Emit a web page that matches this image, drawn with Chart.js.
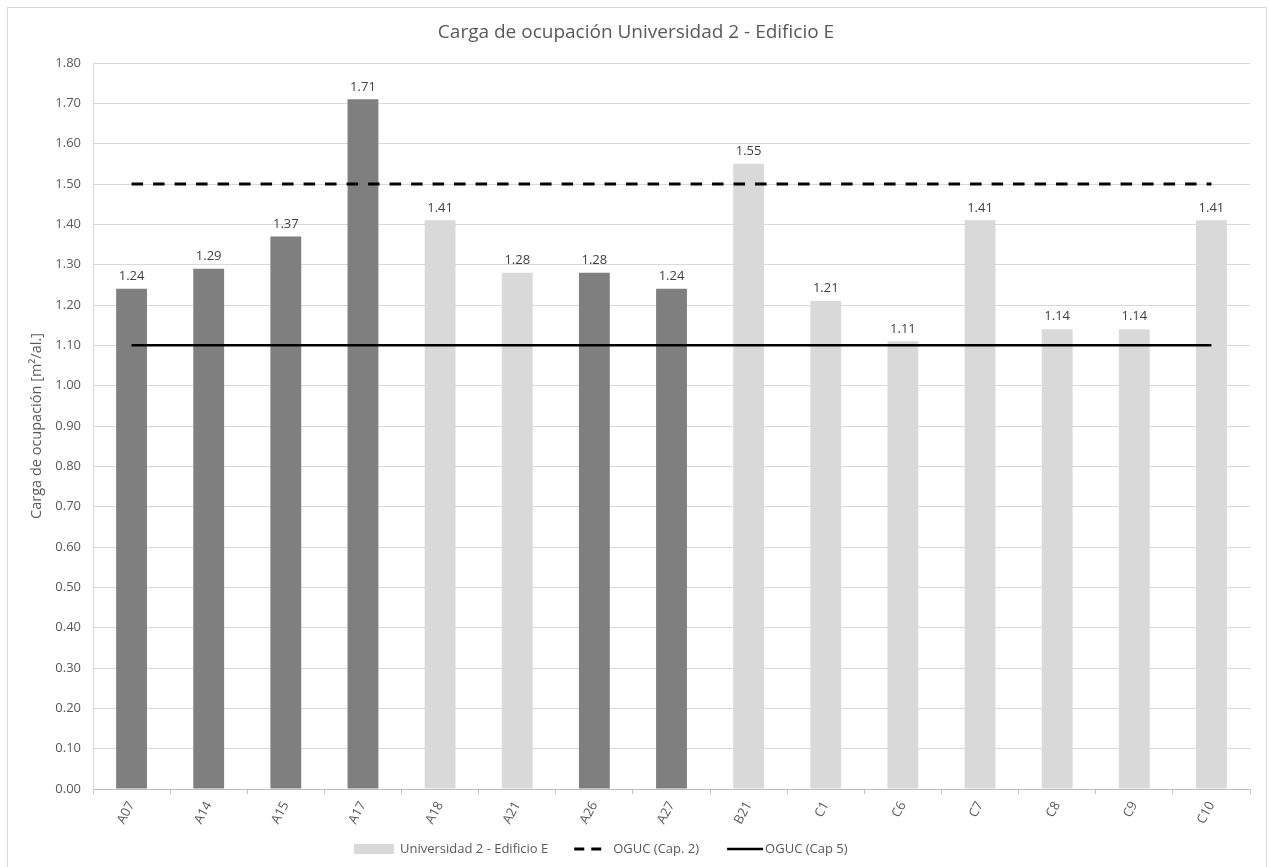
<!DOCTYPE html>
<html>
<head>
<meta charset="utf-8">
<script src="https://cdn.jsdelivr.net/npm/chart.js@4.4.1/dist/chart.umd.min.js"></script>
<style>
  html, body { margin: 0; padding: 0; background: #ffffff; }
  #wrap { position: relative; width: 1269px; height: 867px; }
</style>
</head>
<body>
<div id="wrap"><canvas id="chart" width="1269" height="867"></canvas></div>
<script>
// Rooms of Edificio E and their occupancy load (m² per student)
const categories = ['A07', 'A14', 'A15', 'A17', 'A18', 'A21', 'A26', 'A27', 'B21', 'C1', 'C6', 'C7', 'C8', 'C9', 'C10'];
const occupancyLoad = [1.24, 1.29, 1.37, 1.71, 1.41, 1.28, 1.28, 1.24, 1.55, 1.21, 1.11, 1.41, 1.14, 1.14, 1.41];
// Which rooms are highlighted in the darker shade
const highlighted = [true, true, true, true, false, false, true, true, false, false, false, false, false, false, false];
// Regulatory reference values (OGUC), one per room
const ogucCap2 = [1.50, 1.50, 1.50, 1.50, 1.50, 1.50, 1.50, 1.50, 1.50, 1.50, 1.50, 1.50, 1.50, 1.50, 1.50];
const ogucCap5 = [1.10, 1.10, 1.10, 1.10, 1.10, 1.10, 1.10, 1.10, 1.10, 1.10, 1.10, 1.10, 1.10, 1.10, 1.10];
// Value axis
const yMin = 0;
const yMax = 1.80;
const yStep = 0.10;

const seriesNames = ['Universidad 2 - Edificio E', 'OGUC (Cap. 2)', 'OGUC (Cap 5)'];
const chartTitle = 'Carga de ocupación Universidad 2 - Edificio E';
const yTitle = 'Carga de ocupación [m²/al.]';

const DARK = '#7f7f7f';
const LIGHT = '#d9d9d9';
const TEXT = '#595959';
const FONT = "'Open Sans', 'Liberation Sans', sans-serif";

// Outer frame around the chart
const framePlugin = {
  id: 'frame',
  afterDraw(chart) {
    const ctx = chart.ctx;
    ctx.save();
    ctx.strokeStyle = '#d9d9d9';
    ctx.lineWidth = 1;
    ctx.strokeRect(7.5, 7.5, 1259, 875);
    ctx.restore();
  }
};

// Value labels above each bar
const valueLabelPlugin = {
  id: 'valueLabels',
  afterDatasetsDraw(chart) {
    const ctx = chart.ctx;
    const meta = chart.getDatasetMeta(0);
    const values = chart.data.datasets[0].data;
    ctx.save();
    ctx.font = '13px ' + FONT;
    ctx.fillStyle = '#404040';
    ctx.textAlign = 'center';
    ctx.textBaseline = 'bottom';
    meta.data.forEach((bar, i) => {
      ctx.fillText(values[i].toFixed(2), bar.x, bar.y - 6);
    });
    ctx.restore();
  }
};

// Legend row at the bottom
const legendPlugin = {
  id: 'bottomLegend',
  afterDraw(chart) {
    const ctx = chart.ctx;
    const ds = chart.data.datasets;
    const cy = 849;
    ctx.save();
    ctx.font = '13px ' + FONT;
    ctx.fillStyle = TEXT;
    ctx.textBaseline = 'middle';
    ctx.textAlign = 'left';

    let x = 354;
    // bar swatch
    ctx.fillStyle = LIGHT;
    ctx.fillRect(x, cy - 5, 40, 10);
    ctx.fillStyle = TEXT;
    x += 46;
    ctx.fillText(ds[0].label, x, cy);
    x += ctx.measureText(ds[0].label).width + 26;

    // dashed line swatch
    ctx.strokeStyle = ds[1].borderColor;
    ctx.lineWidth = ds[1].borderWidth;
    ctx.setLineDash([10, 7]);
    ctx.beginPath();
    ctx.moveTo(x, cy);
    ctx.lineTo(x + 28, cy);
    ctx.stroke();
    x += 39;
    ctx.fillText(ds[1].label, x, cy);
    x += ctx.measureText(ds[1].label).width + 28;

    // solid line swatch
    ctx.setLineDash([]);
    ctx.strokeStyle = ds[2].borderColor;
    ctx.lineWidth = ds[2].borderWidth;
    ctx.beginPath();
    ctx.moveTo(x, cy);
    ctx.lineTo(x + 36, cy);
    ctx.stroke();
    x += 38;
    ctx.fillText(ds[2].label, x, cy);
    ctx.restore();
  }
};

new Chart(document.getElementById('chart'), {
  type: 'bar',
  data: {
    labels: categories,
    datasets: [
      {
        type: 'bar',
        label: seriesNames[0],
        data: occupancyLoad,
        backgroundColor: highlighted.map(h => (h ? DARK : LIGHT)),
        borderWidth: 0,
        barPercentage: 0.4,
        categoryPercentage: 1.0,
        order: 2
      },
      {
        type: 'line',
        label: seriesNames[1],
        data: ogucCap2,
        borderColor: '#000000',
        borderWidth: 3,
        borderDash: [11.5, 10],
        pointRadius: 0,
        fill: false,
        tension: 0,
        order: 1
      },
      {
        type: 'line',
        label: seriesNames[2],
        data: ogucCap5,
        borderColor: '#000000',
        borderWidth: 2.5,
        pointRadius: 0,
        fill: false,
        tension: 0,
        order: 1
      }
    ]
  },
  options: {
    responsive: false,
    animation: false,
    layout: { padding: { left: 22, right: 19, top: 0, bottom: 0 } },
    plugins: {
      legend: { display: false },
      tooltip: { enabled: false },
      title: {
        display: true,
        text: chartTitle,
        color: TEXT,
        font: { family: FONT, size: 19, weight: 'normal' },
        padding: { top: 21.5, bottom: 18.7 }
      }
    },
    scales: {
      x: {
        grid: {
          display: true,
          drawOnChartArea: false,
          drawTicks: true,
          tickLength: 5,
          color: '#bfbfbf',
          offset: true
        },
        border: { display: true, color: '#bfbfbf' },
        ticks: {
          color: TEXT,
          font: { family: FONT, size: 13 },
          minRotation: 62,
          maxRotation: 62,
          autoSkip: false,
          padding: 5
        },
        afterFit(scale) { scale.height = 78; }
      },
      y: {
        min: yMin,
        max: yMax,
        grid: { color: '#d9d9d9', drawTicks: false },
        border: { display: true, color: '#d9d9d9' },
        ticks: {
          stepSize: yStep,
          color: TEXT,
          font: { family: FONT, size: 13 },
          padding: 12,
          callback: v => Number(v).toFixed(2)
        },
        title: {
          display: true,
          text: yTitle,
          color: TEXT,
          font: { family: FONT, size: 14.5 },
          padding: { top: 6, bottom: 0 }
        },
        afterFit(scale) { scale.width = 71; }
      }
    }
  },
  plugins: [framePlugin, valueLabelPlugin, legendPlugin]
});
</script>
</body>
</html>
